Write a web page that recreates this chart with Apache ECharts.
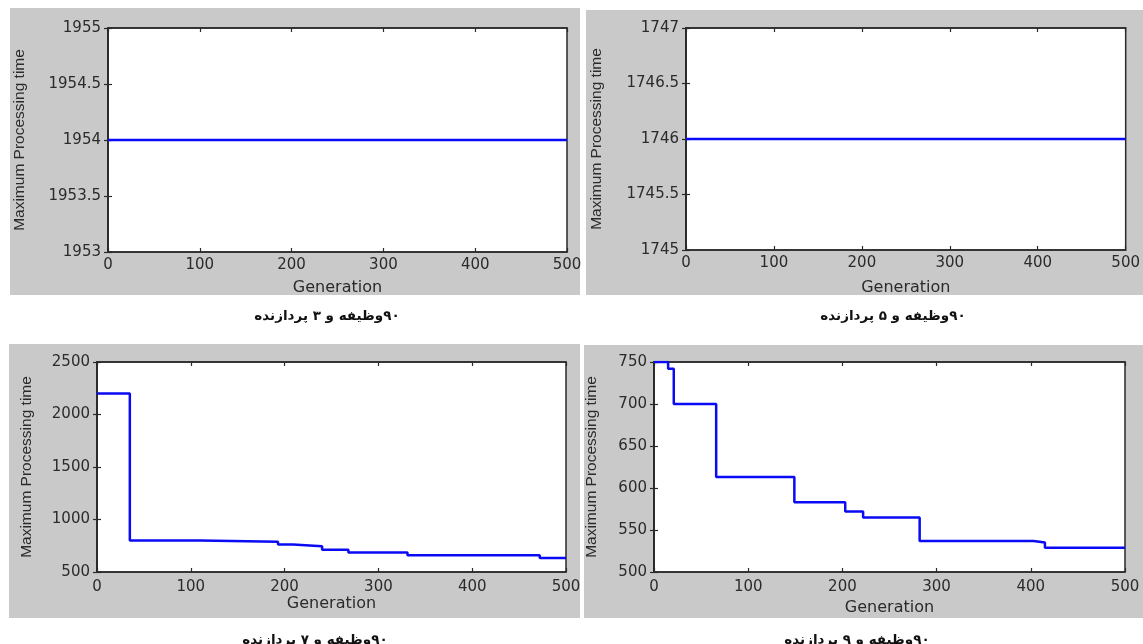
<!DOCTYPE html>
<html>
<head>
<meta charset="utf-8">
<script src="https://cdn.jsdelivr.net/npm/echarts@6/dist/echarts.min.js"></script>
<style>html,body{margin:0;padding:0;background:#fff}#c{width:1143px;height:644px}</style>
</head>
<body>
<div id="c"></div>
<script>
// ---- data ----
const captions = ['۹۰وظیفه و ۳ پردازنده', '۹۰وظیفه و ۵ پردازنده', '۹۰وظیفه و ۷ پردازنده', '۹۰وظیفه و ۹ پردازنده'];
const xName = 'Generation';
const yName = 'Maximum Processing time';
// 3 processors: constant
const gen3 = [0, 500];
const val3 = [1954, 1954];
// 5 processors: constant
const gen5 = [0, 500];
const val5 = [1746, 1746];
// 7 processors: step changes (generation where value starts)
const gen7 = [0, 35, 110, 193, 209, 240, 268, 331, 472, 500];
const val7 = [2200, 800, 788, 762, 746, 711, 686, 660, 634, 634];
// 9 processors
const gen9 = [0, 15, 21, 66, 149, 203, 222, 282, 403, 415, 500];
const val9 = [750, 742, 700, 613, 583, 572, 565, 537, 535, 529, 529];
// y ranges
const yMin = [1953, 1745, 500, 500];
const yMax = [1955, 1747, 2500, 750];
const yStep = [0.5, 0.5, 500, 50];

const gens = [gen3, gen5, gen7, gen9];
const vals = [val3, val5, val7, val9];

// ---- layout ----
const grids = [
  {left: 108, top: 28, width: 459, height: 224},
  {left: 686, top: 28, width: 441, height: 222},
  {left: 97, top: 362, width: 469, height: 210},
  {left: 654, top: 362, width: 471, height: 210}
];
const panels = [
  {x: 10, y: 8, w: 570, h: 287},
  {x: 586, y: 10, w: 557, h: 285},
  {x: 9, y: 344, w: 571, h: 274},
  {x: 584, y: 345, w: 559, h: 273}
];
const yNameGap = [80, 81, 62, 54];
const xNameGap = [28, 30, 24, 28];
const labelMarginX = [6, 6, 8, 8];
const capPos = [{x: 327, y: 316}, {x: 893, y: 316}, {x: 315, y: 640}, {x: 857, y: 640}];

const tickFont = 'DejaVu Sans, sans-serif';
const nameFont = 'Liberation Sans, Arial, sans-serif';
const txt = '#2b2b2b';
const frame = '#2a2a2a';

const option = {
  animation: false,
  backgroundColor: '#fff',
  graphic: [],
  grid: [],
  xAxis: [],
  yAxis: [],
  series: []
};

panels.forEach((p, i) => {
  option.graphic.push({
    type: 'rect', z: -10, silent: true,
    shape: {x: p.x, y: p.y, width: p.w, height: p.h},
    style: {fill: '#c9c9c9'}
  });
  option.graphic.push({
    type: 'text', silent: true, z: 10,
    x: capPos[i].x, y: capPos[i].y,
    style: {
      text: '\u200F' + captions[i], fill: '#111', fontSize: 13.5, fontWeight: 'bold',
      fontFamily: 'DejaVu Sans, Noto Sans, sans-serif',
      align: 'center', verticalAlign: 'middle'
    }
  });
});

grids.forEach((g, i) => {
  option.grid.push(Object.assign({
    show: true, backgroundColor: '#fff', borderColor: frame, borderWidth: 1.5,
    containLabel: false
  }, g));
  const axLine = {show: true, lineStyle: {color: frame, width: 1.5}};
  const tick = {show: true, inside: true, length: 4, lineStyle: {color: frame, width: 1.2}};
  // bottom x
  option.xAxis.push({
    type: 'value', gridIndex: i, position: 'bottom', min: 0, max: 500, interval: 100,
    name: xName, nameLocation: 'middle', nameGap: xNameGap[i],
    nameTextStyle: {fontFamily: tickFont, fontSize: 16, color: txt},
    axisLine: axLine, axisTick: tick, splitLine: {show: false},
    axisLabel: {fontFamily: tickFont, fontSize: 15, color: txt, margin: labelMarginX[i], formatter: v => String(v)}
  });
  // top x mirror
  option.xAxis.push({
    type: 'value', gridIndex: i, position: 'top', min: 0, max: 500, interval: 100,
    axisLine: axLine, axisTick: tick, splitLine: {show: false}, axisLabel: {show: false}
  });
  // left y
  option.yAxis.push({
    type: 'value', gridIndex: i, position: 'left', min: yMin[i], max: yMax[i], interval: yStep[i],
    name: yName, nameLocation: 'middle', nameGap: yNameGap[i],
    nameTextStyle: {fontFamily: nameFont, fontSize: 15.5, color: txt},
    axisLine: axLine, axisTick: tick, splitLine: {show: false},
    axisLabel: {fontFamily: tickFont, fontSize: 15, color: txt, margin: 7, formatter: v => String(v)}
  });
  // right y mirror
  option.yAxis.push({
    type: 'value', gridIndex: i, position: 'right', min: yMin[i], max: yMax[i], interval: yStep[i],
    axisLine: axLine, axisTick: tick, splitLine: {show: false}, axisLabel: {show: false}
  });
  option.series.push({
    type: 'line', xAxisIndex: i * 2, yAxisIndex: i * 2, step: 'end',
    data: gens[i].map((x, k) => [x, vals[i][k]]),
    showSymbol: false, symbol: 'none', clip: true,
    lineStyle: {color: '#0a0af5', width: 2.5}
  });
});

const chart = echarts.init(document.getElementById('c'), null, {renderer: 'canvas'});
chart.setOption(option);
</script>
</body>
</html>
